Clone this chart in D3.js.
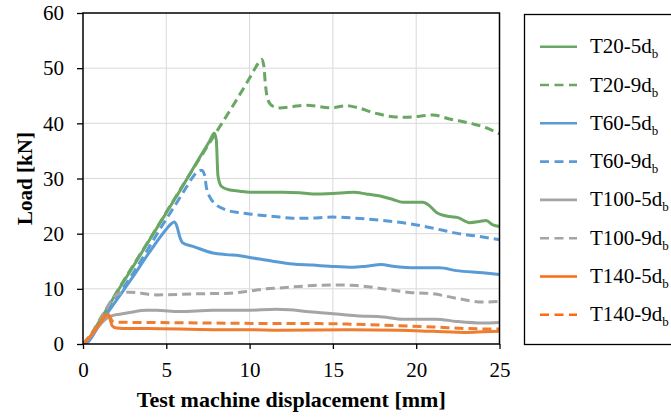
<!DOCTYPE html>
<html>
<head>
<meta charset="utf-8">
<script src="https://cdn.jsdelivr.net/npm/d3@7"></script>
<style>
  body { margin: 0; background: #fff; }
  svg { display: block; font-family: "Liberation Serif", "Times New Roman", serif; }
</style>
</head>
<body>
<svg class="chart" width="671" height="419"></svg>
<script>
// readings from the test curves: [displacement mm, load kN]
let t20_5d = [[0,0],[0.3,0.8],[1,4.2],[2,9.2],[3,14.0],[4,18.9],[5,23.8],[6,28.7],[7,33.8],[7.6,36.8],[7.88,38.2],[8.0,37.0],[8.1,30.5],[8.3,28.6],[8.7,28.0],[9.4,27.7],[10,27.5],[11,27.5],[12,27.5],[13,27.4],[13.8,27.2],[15,27.3],[16.2,27.5],[17,27.2],[18,26.7],[18.6,26.2],[19.2,25.7],[20.4,25.7],[20.7,25.3],[21.2,23.9],[22,23.1],[22.5,22.9],[23.2,22.0],[23.8,22.2],[24.2,22.4],[24.6,21.6],[25,21.3]];
let t20_9d = [[0,0],[0.3,0.9],[1,4.4],[2,9.3],[3,14.2],[4,19.0],[5,23.9],[6,28.8],[7,33.6],[8,38.4],[9,43.2],[10,48.2],[10.5,50.8],[10.72,51.6],[10.85,50.5],[10.95,47],[11.1,44.2],[11.4,43.1],[11.8,42.8],[12.5,43.0],[13.4,43.3],[14.9,42.8],[15.8,43.2],[16.4,42.9],[17.6,41.8],[18.6,41.2],[19.4,41.1],[21,41.5],[22,40.8],[23.4,39.9],[24.2,39.2],[25,38.1]];
let t60_5d = [[0,0],[0.3,0.4],[1,3.6],[2,7.9],[3,12.2],[4,16.7],[5,20.8],[5.3,21.8],[5.48,22.1],[5.65,21.2],[5.8,19.5],[6.0,18.3],[6.6,17.7],[7.8,16.5],[8.6,16.2],[9.4,16.0],[10.2,15.6],[11.4,15.0],[12.6,14.5],[13.8,14.3],[14.8,14.1],[16.2,13.9],[17,14.1],[17.9,14.4],[18.6,14.1],[20,13.8],[21.4,13.8],[22.4,13.3],[24,12.9],[25,12.6]];
let t60_9d = [[0,0],[0.3,0.5],[1,3.8],[2,8.3],[3,12.8],[4,17.7],[4.8,21.7],[5.5,25.0],[6.2,28.4],[6.6,30.3],[6.9,31.3],[7.12,31.5],[7.3,30.6],[7.4,28.5],[7.6,26.7],[7.8,25.8],[8.6,24.3],[9.4,23.8],[10.2,23.5],[11.8,23.0],[12.6,22.8],[13.4,22.8],[15,23.0],[16.4,22.8],[18,22.4],[19.4,21.9],[21,21.0],[22.4,20.1],[24,19.4],[25,18.9]];
let t100_5d = [[0,0],[0.5,1.5],[1,3.4],[1.4,4.6],[1.72,5.1],[2.2,5.4],[2.8,5.7],[3.8,6.1],[4.4,6.1],[5.8,5.9],[7.8,6.1],[9.8,6.1],[11.6,6.3],[12.4,6.2],[13.4,5.9],[15,5.5],[16.4,5.1],[18,4.9],[19.2,4.5],[21.2,4.5],[22.4,4.1],[24,3.8],[25,3.9]];
let t100_9d = [[0,0],[0.5,1.8],[1,4.2],[1.4,6.3],[1.72,8.0],[2.2,9.2],[2.8,9.4],[4.4,8.9],[6.8,9.1],[8.8,9.2],[10,9.6],[11,10.0],[12,10.2],[13.8,10.6],[15,10.7],[16.4,10.6],[18,10.0],[19.6,9.35],[21,9.1],[22.4,8.3],[24,7.6],[25,7.7]];
let t140_5d = [[0,0],[0.5,1.6],[1,3.6],[1.3,4.9],[1.5,5.4],[1.62,4.6],[1.75,3.3],[2,2.9],[2.8,2.8],[3.8,2.8],[7.8,2.6],[10,2.6],[11.8,2.5],[16,2.6],[19,2.5],[21,2.3],[23,2.1],[24,2.2],[25,2.3]];
let t140_9d = [[0,0],[0.5,1.8],[1,3.9],[1.3,5.2],[1.45,5.7],[1.6,5.0],[1.8,4.1],[2.2,3.95],[3.8,3.9],[7.8,3.8],[11.8,3.7],[14,3.7],[16,3.6],[19,3.3],[21,3.1],[23,2.8],[25,2.7]];

let names = ['T20-5d', 'T20-9d', 'T60-5d', 'T60-9d', 'T100-5d', 'T100-9d', 'T140-5d', 'T140-9d'];
let curves = [t20_5d, t20_9d, t60_5d, t60_9d, t100_5d, t100_9d, t140_5d, t140_9d];
let colors = ['#6aa764', '#6aa764', '#5b9bd5', '#5b9bd5', '#a5a5a5', '#a5a5a5', '#ed7d31', '#ed7d31'];
let legendColors = ['#6aa764', '#6aa764', '#5b9bd5', '#5b9bd5', '#a5a5a5', '#a5a5a5', '#ff6a10', '#ff6a10'];
let dashed = [false, true, false, true, false, true, false, true];
let xTicks = [0, 5, 10, 15, 20, 25];
let yTicks = [0, 10, 20, 30, 40, 50, 60];

let margin = { top: 13, left: 83 };
let width = 416.5;
let height = 331;

let x = d3.scaleLinear().domain([0, 25]).range([0, width]);
let y = d3.scaleLinear().domain([0, 60]).range([height, 0]);

let svg = d3.select('.chart');
let chart = svg.append('g')
    .attr('transform', 'translate(' + margin.left + ',' + margin.top + ')');

chart.append('clipPath').attr('id', 'plot')
  .append('rect').attr('width', width).attr('height', height);

// grid
chart.append('g').selectAll('line')
    .data(xTicks.slice(1, -1))
  .enter().append('line')
    .attr('x1', d => x(d)).attr('x2', d => x(d))
    .attr('y1', 0).attr('y2', height)
    .attr('stroke', '#d9d9d9').attr('stroke-width', 1);
chart.append('g').selectAll('line')
    .data(yTicks.slice(1, -1))
  .enter().append('line')
    .attr('y1', d => y(d)).attr('y2', d => y(d))
    .attr('x1', 0).attr('x2', width)
    .attr('stroke', '#d9d9d9').attr('stroke-width', 1);

let line = d3.line()
    .x(d => x(d[0]))
    .y(d => y(d[1]))
    .curve(d3.curveMonotoneX);

chart.append('g').attr('clip-path', 'url(#plot)')
  .selectAll('path')
    .data(curves)
  .enter().append('path')
    .attr('d', line)
    .attr('fill', 'none')
    .attr('stroke', (d, i) => colors[i])
    .attr('stroke-width', 3)
    .attr('stroke-linejoin', 'round')
    .attr('stroke-dasharray', (d, i) => dashed[i] ? '9,5' : null);

// frame
chart.append('rect')
    .attr('width', width).attr('height', height)
    .attr('fill', 'none').attr('stroke', '#000').attr('stroke-width', 1.5);

let xAxis = d3.axisBottom(x).tickValues(xTicks).tickSize(5).tickPadding(13).tickSizeOuter(0);
let yAxis = d3.axisLeft(y).tickValues(yTicks).tickSize(6).tickPadding(13).tickSizeOuter(0);

let gx = chart.append('g')
    .attr('transform', 'translate(0,' + height + ')')
    .call(xAxis);
let gy = chart.append('g').call(yAxis);

[gx, gy].forEach(g => {
  g.select('.domain').remove();
  g.selectAll('line').attr('stroke', '#000').attr('stroke-width', 1.3);
  g.selectAll('text')
      .attr('font-family', '"Liberation Serif", serif')
      .attr('font-size', 21)
      .attr('fill', '#000');
});

svg.append('text')
    .attr('x', margin.left + width / 2)
    .attr('y', 407)
    .attr('text-anchor', 'middle')
    .attr('font-size', 22)
    .attr('font-weight', 'bold')
    .text('Test machine displacement [mm]');

svg.append('text')
    .attr('transform', 'translate(32,' + (margin.top + height / 2) + ') rotate(-90)')
    .attr('text-anchor', 'middle')
    .attr('font-size', 21)
    .attr('font-weight', 'bold')
    .text('Load [kN]');

// legend
let legend = svg.append('g');
legend.append('rect')
    .attr('x', 524.5).attr('y', 14.5)
    .attr('width', 160).attr('height', 330)
    .attr('fill', '#fff').attr('stroke', '#000').attr('stroke-width', 1.3);

let item = legend.selectAll('.item')
    .data(names)
  .enter().append('g')
    .attr('class', 'item')
    .attr('transform', (d, i) => 'translate(0,' + (46.7 + i * 38.3) + ')');

item.append('line')
    .attr('x1', 540).attr('x2', 577)
    .attr('stroke', (d, i) => legendColors[i])
    .attr('stroke-width', 2.6)
    .attr('stroke-dasharray', (d, i) => dashed[i] ? '9,5.5' : null);

let label = item.append('text')
    .attr('x', 590).attr('y', 6.5)
    .attr('font-size', 21);
label.append('tspan').text(d => d);
label.append('tspan')
    .attr('font-size', 13)
    .attr('dy', 5)
    .text('b');
</script>
</body>
</html>
